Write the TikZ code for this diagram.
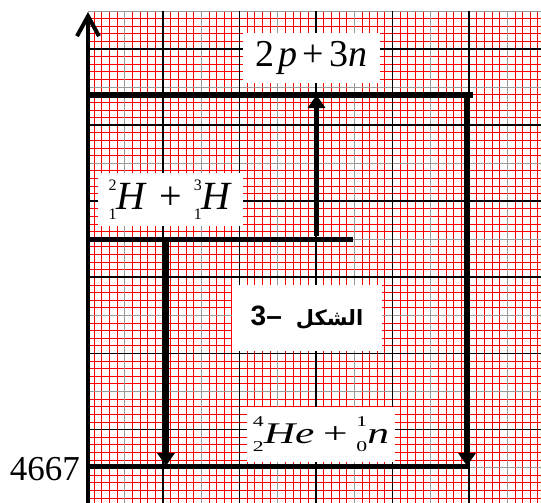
\documentclass[tikz,border=0pt]{standalone}
\usepackage{graphicx}
\usepackage{fontspec}
\setmainfont{Liberation Serif}
\newfontfamily\labsans{Liberation Sans}
\newfontfamily\arabicfont[Script=Arabic]{DejaVu Sans}
\TeXXeTstate=1
\usetikzlibrary{arrows.meta}
\newcommand\prescr[5]{{\fontsize{#3}{#3}\selectfont\rlap{\raisebox{#4}{#1}}\raisebox{-#5}{#2}}}
\begin{document}
\begin{tikzpicture}[x=1pt,y=-1pt,
  minorline/.style={red, line width=0.75pt},
  halfline/.style={black!40, line width=0.8pt},
  majorline/.style={black, line width=1.8pt},
  level/.style={black, line width=5pt},
  transition/.style={black, line width=5.5pt, -{Triangle[length=13pt,width=17pt]}},
  axisline/.style={black, line width=4pt, -{Straight Barb[length=20pt,width=22pt]}},
  labelbox/.style={fill=white, inner sep=0pt, align=center},
]
\useasboundingbox[fill=white] (0,0) rectangle (541,503);
\begin{scope}
  \clip (88,10) rectangle (541,503);
  \foreach \i in {0,...,60} { \draw[minorline] ({86.5+7.65*\i},10.9) -- ({86.5+7.65*\i},503); }
  \foreach \j in {-5,...,60} { \draw[minorline] (88,{49+7.61*\j}) -- (541,{49+7.61*\j}); }
  \foreach \i in {5,15,...,55} { \draw[halfline] ({86.5+7.65*\i},10.9) -- ({86.5+7.65*\i},503); }
  \foreach \j in {-5,5,...,55} { \draw[halfline] (88,{49+7.61*\j}) -- (541,{49+7.61*\j}); }
  \foreach \i in {0,10,...,60} { \draw[majorline] ({86.5+7.65*\i},10.9) -- ({86.5+7.65*\i},503); }
  \foreach \j in {0,10,...,50} { \draw[majorline] (88,{49+7.61*\j}) -- (541,{49+7.61*\j}); }
\end{scope}

% labels
\node[labelbox, minimum width=137pt, minimum height=50pt] (prod) at (311.5,58)
  {\fontsize{38}{38}\selectfont 2\hspace{4pt}\textit{p}\hspace{5pt}+\hspace{5pt}3\textit{n}};
\node[labelbox, minimum width=145pt, minimum height=53pt] (react) at (170.5,199.5)
  {\fontsize{40}{40}\selectfont\prescr{2}{1}{16pt}{19pt}{10pt}\textit{H}\hspace{12pt}+\hspace{12pt}\prescr{3}{1}{16pt}{19pt}{10pt}\textit{H}};
\node[labelbox, minimum width=150pt, minimum height=66pt] (fig) at (307,318)
  {{\fontsize{28}{28}\selectfont\labsans\bfseries 3–}\hspace{14pt}{\fontsize{21}{21}\selectfont\arabicfont\bfseries\beginR الشكل\endR}};
\node[labelbox, minimum width=148pt, minimum height=55pt] (fuse) at (321,434.5)
  {\scalebox{1.45}[1]{\fontsize{30}{30}\selectfont\prescr{4}{2}{15pt}{17pt}{8pt}\textit{He}\hspace{6pt}+\hspace{6pt}\prescr{1}{0}{15pt}{17pt}{8pt}\textit{n}}};
\node[anchor=base east, inner sep=0pt] (val) at (80,480) {\fontsize{35}{35}\selectfont 4667};

% coordinates
\coordinate (axB) at (88,503);
\coordinate (axT) at (88,12);
\coordinate (topL) at (88,95);
\coordinate (topR) at (473,95);
\coordinate (midL) at (88,239);
\coordinate (midR) at (353,239);
\coordinate (botL) at (88,466);
\coordinate (botR) at (470,466);
\coordinate (upS) at (316.5,236);
\coordinate (upE) at (316.5,95);
\coordinate (dlS) at (166,239);
\coordinate (dlE) at (166,466);
\coordinate (drS) at (467,95);
\coordinate (drE) at (467,466);

% levels
\draw[level] (topL) -- (topR);
\draw[level] (midL) -- (midR);
\draw[level] (botL) -- (botR);

% transitions
\draw[transition] (upS) -- (upE);
\draw[transition] (dlS) -- (dlE);
\draw[transition] (drS) -- (drE);

% axis
\draw[axisline] (axB) -- (axT);
\end{tikzpicture}
\end{document}
